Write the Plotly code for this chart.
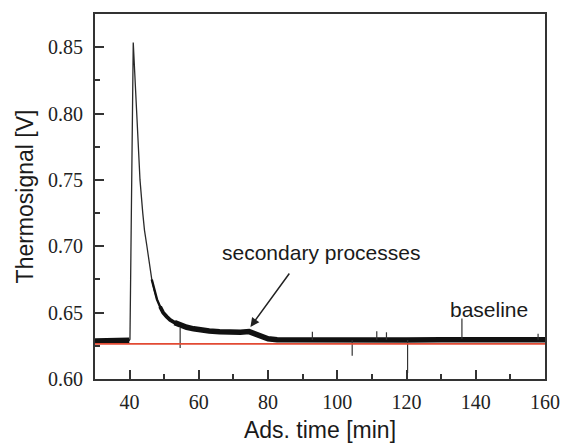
import plotly.graph_objects as go

# ---- data ----
time_min = [30.0, 32.0, 34.0, 36.0, 38.0, 39.9, 40.1, 41.05, 42.0, 43.0, 43.8, 44.3, 45.0,
            45.7, 46.4, 47.1, 47.9, 48.8, 49.7, 50.7, 51.7, 53.0, 54.6, 56.5, 58.5, 60.0,
            63.0, 66.0, 69.0, 72.0, 74.5, 76.0, 77.8, 80.0, 82.6, 90.0, 100.0, 110.0,
            120.0, 130.0, 140.0, 150.0, 160.0]
signal_v = [0.6286, 0.6288, 0.6287, 0.6289, 0.6290, 0.6292, 0.6300, 0.8535, 0.8030, 0.7500,
            0.7250, 0.7120, 0.7000, 0.6870, 0.6750, 0.6670, 0.6600, 0.6545, 0.6500, 0.6470,
            0.6445, 0.6425, 0.6405, 0.6390, 0.6378, 0.6370, 0.6362, 0.6356, 0.6352, 0.6353,
            0.6357, 0.6342, 0.6318, 0.6303, 0.6296, 0.6294, 0.6294, 0.6295, 0.6294, 0.6295,
            0.6296, 0.6295, 0.6296]

# isolated spikes in the trace (time, base level, tip level)
spike_t = [54.6, 92.8, 104.3, 111.4, 114.2, 120.3, 158.0]
spike_base = [0.6385, 0.6294, 0.6294, 0.6295, 0.6295, 0.6294, 0.6296]
spike_tip = [0.6233, 0.6356, 0.6175, 0.6360, 0.6352, 0.6045, 0.6340]

baseline_level = 0.6265
x_range = [30, 160]
y_range = [0.60, 0.875]

fig = go.Figure()

# thin full trace
fig.add_trace(go.Scatter(x=time_min, y=signal_v, mode="lines",
                         line=dict(color="#2a2a2a", width=1.3), hoverinfo="skip"))

# noisy portions drawn thicker (noise band grows as the slope flattens)
def segment(t0, t1):
    tt = [t for t in time_min if t0 <= t <= t1]
    vv = [v for t, v in zip(time_min, signal_v) if t0 <= t <= t1]
    return tt, vv

for (t0, t1), w in (((30.0, 39.9), 5.5), ((46.4, 49.7), 2.4), ((48.8, 54.6), 3.8),
                    ((53.0, 160.0), 5.5)):
    tt, vv = segment(t0, t1)
    fig.add_trace(go.Scatter(x=tt, y=vv, mode="lines",
                             line=dict(color="#111111", width=w), hoverinfo="skip"))

# spikes
sx, sy = [], []
for t, b, p in zip(spike_t, spike_base, spike_tip):
    sx += [t, t, None]
    sy += [b, p, None]
fig.add_trace(go.Scatter(x=sx, y=sy, mode="lines",
                         line=dict(color="#333333", width=1.2), hoverinfo="skip"))

# red baseline
fig.add_trace(go.Scatter(x=x_range, y=[baseline_level, baseline_level], mode="lines",
                         line=dict(color="#e24a33", width=1.8), hoverinfo="skip"))

ann_font = dict(family="Liberation Sans", size=21, color="#1a1a1a")
fig.add_annotation(x=74.9, y=0.6392, xref="x", yref="y", text="",
                   showarrow=True, ax=40, ay=-55, axref="pixel", ayref="pixel",
                   arrowhead=2, arrowsize=1.2, arrowwidth=1.5, arrowcolor="#222222")
fig.add_annotation(x=95.2, y=0.695, xref="x", yref="y", text="secondary processes",
                   showarrow=False, font=ann_font)
fig.add_annotation(x=136.0, y=0.6301, xref="x", yref="y", text="",
                   showarrow=True, ax=0, ay=-22, axref="pixel", ayref="pixel",
                   arrowhead=0, arrowwidth=1.2, arrowcolor="#333333")
fig.add_annotation(x=143.9, y=0.6527, xref="x", yref="y", text="baseline",
                   showarrow=False, font=ann_font)

tick_font = dict(family="Times New Roman, Liberation Serif, serif", size=20, color="#222222")
title_font = dict(family="Liberation Sans", size=23, color="#1a1a1a")

fig.update_xaxes(range=x_range, dtick=20, tick0=0, ticks="inside", ticklen=9, tickwidth=2,
                 tickcolor="#333333", showline=True, linewidth=2, linecolor="#333333",
                 mirror=True, showgrid=False, zeroline=False, tickfont=tick_font,
                 ticklabelstandoff=4, automargin=False,
                 minor=dict(dtick=10, ticks="inside", ticklen=5, tickwidth=2, tickcolor="#333333"),
                 title=dict(text="Ads. time [min]", font=title_font, standoff=12))
fig.update_yaxes(range=y_range, dtick=0.05, tick0=0, tickformat=".2f", ticks="inside",
                 ticklen=9, tickwidth=2, tickcolor="#333333", showline=True, linewidth=2,
                 linecolor="#333333", mirror=True, showgrid=False, zeroline=False,
                 tickfont=tick_font, ticklabelstandoff=6, automargin=False,
                 minor=dict(dtick=0.025, ticks="inside", ticklen=5, tickwidth=2, tickcolor="#333333"),
                 title=dict(text="Thermosignal [V]", font=title_font, standoff=8))

fig.update_layout(width=562, height=443, margin=dict(l=95, r=17, t=14, b=64),
                  font=dict(family="Times New Roman, Liberation Serif, serif", size=20,
                            color="#222222"),
                  paper_bgcolor="white", plot_bgcolor="white", showlegend=False)

fig.write_html("out.html")
